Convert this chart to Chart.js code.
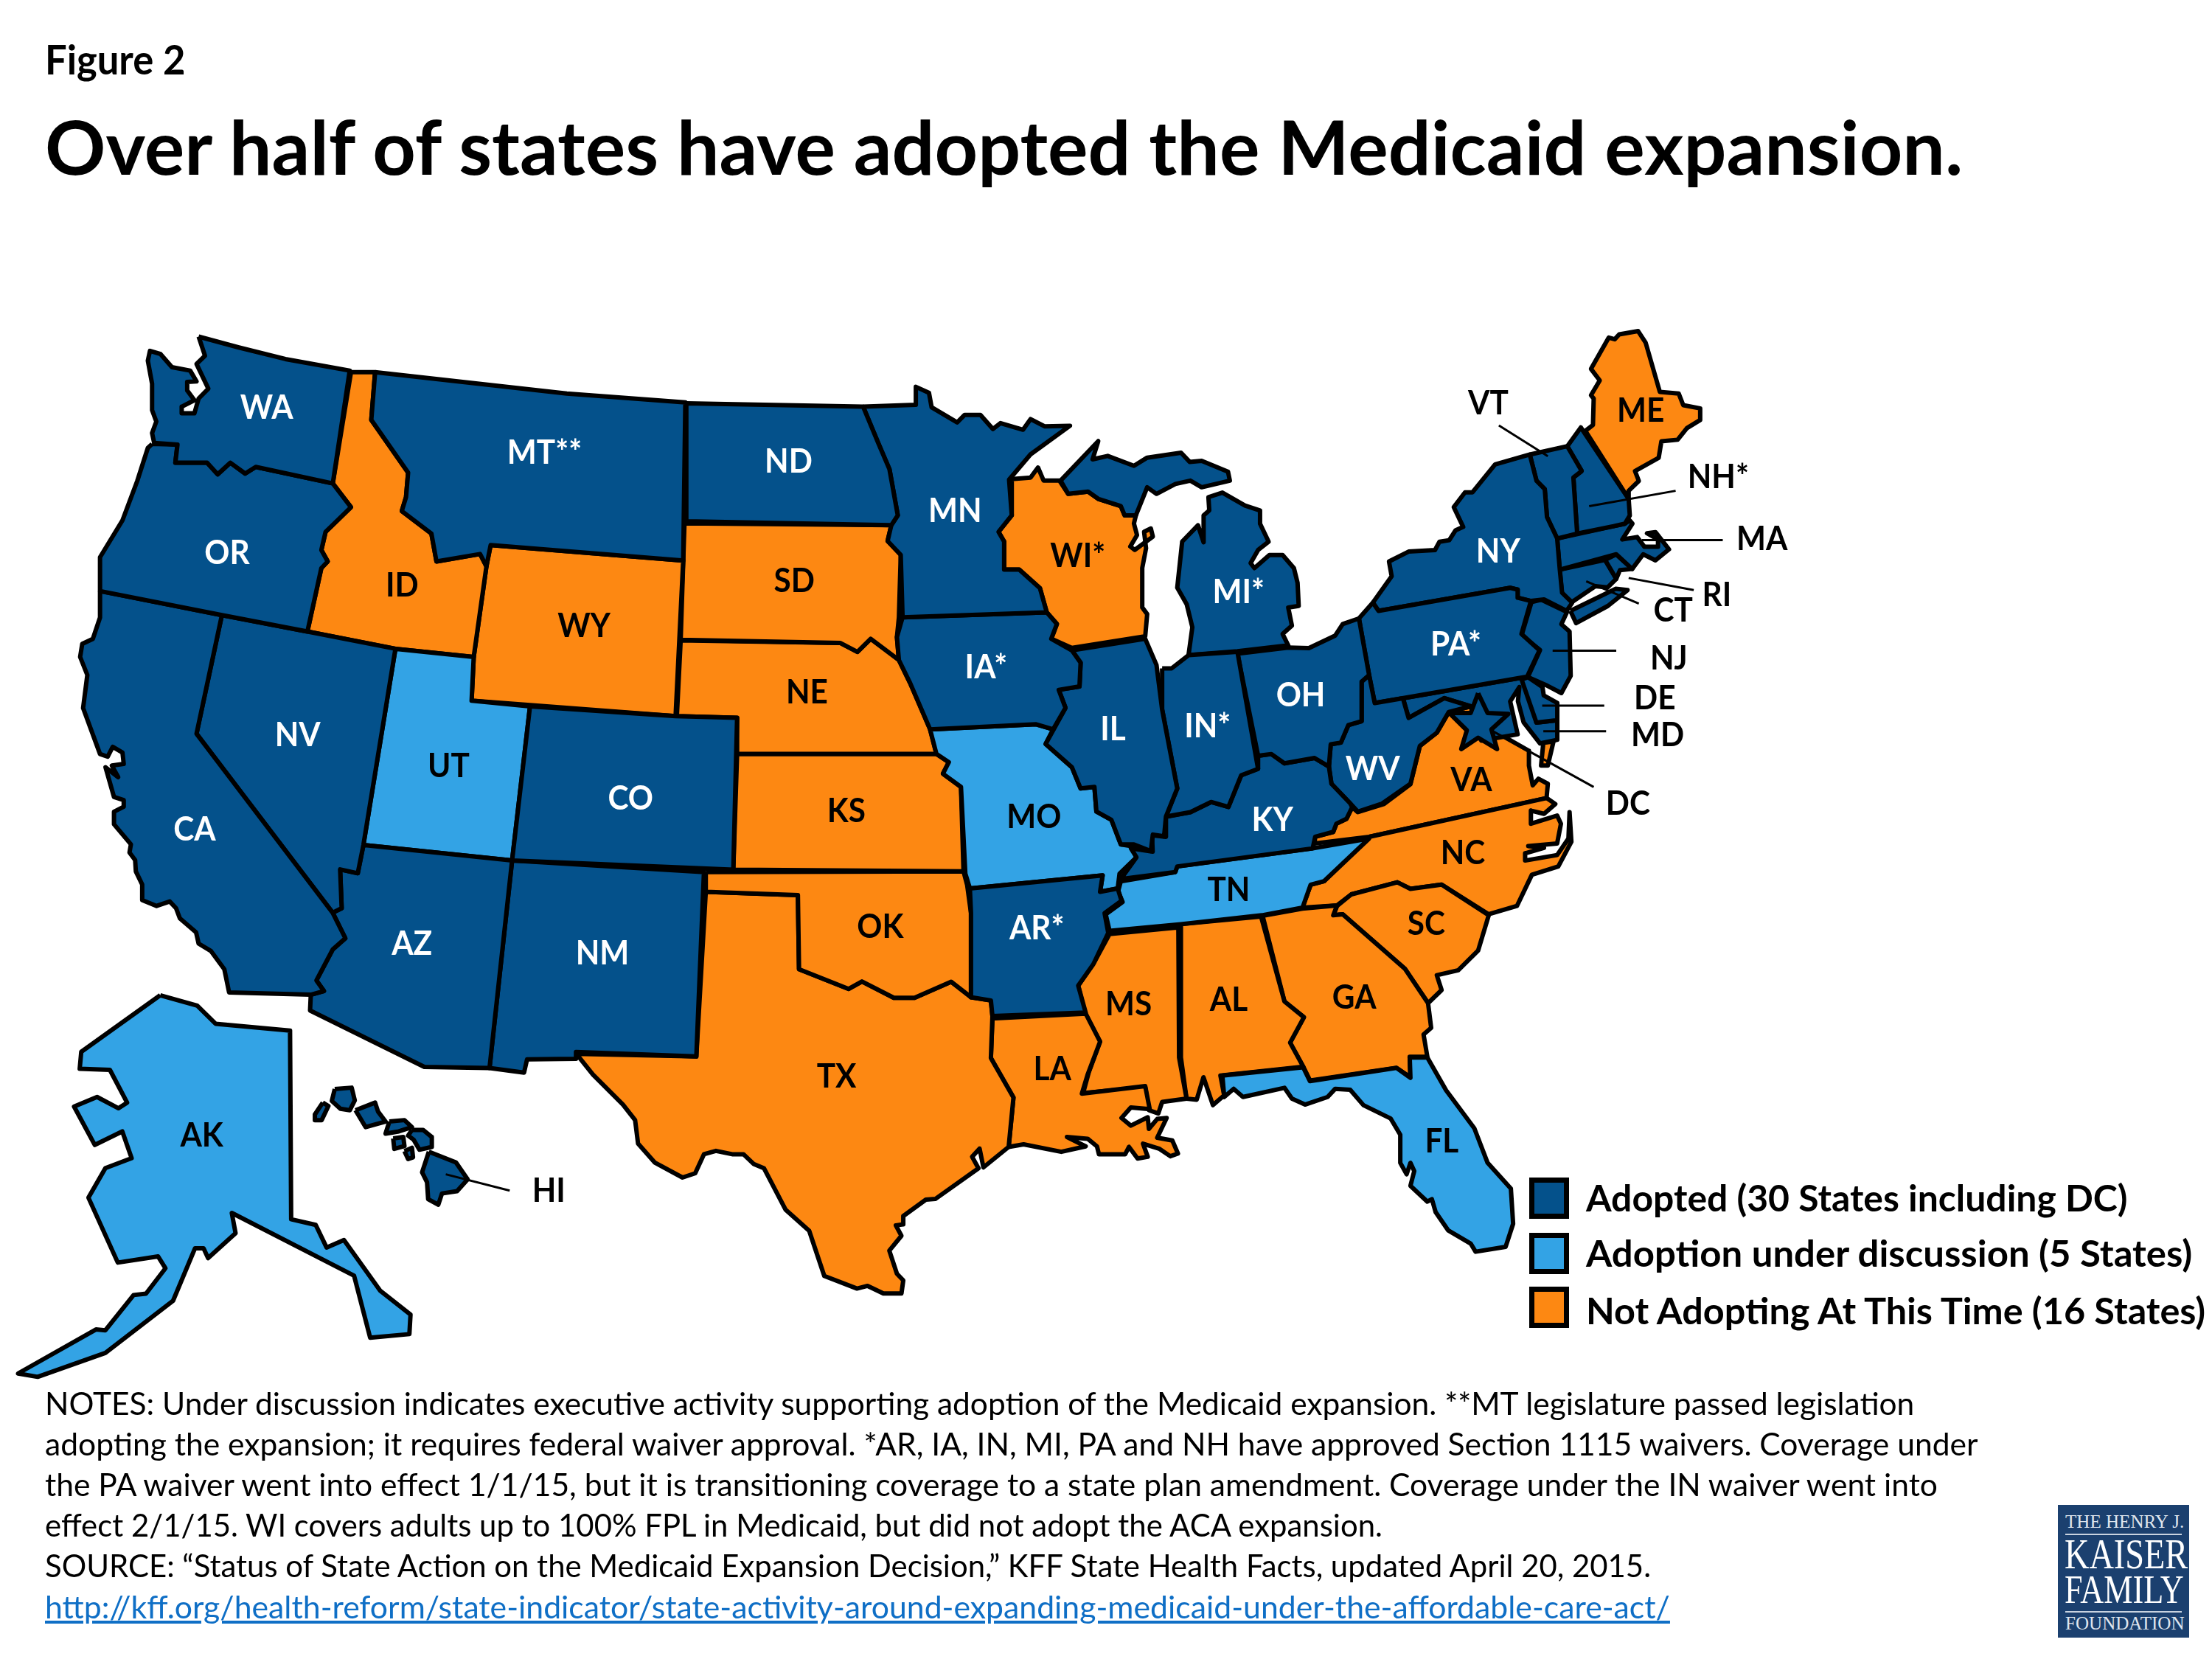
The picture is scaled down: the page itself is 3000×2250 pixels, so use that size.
<!DOCTYPE html>
<html>
<head>
<meta charset="utf-8">
<title>Figure 2</title>
<script src="https://cdn.jsdelivr.net/npm/chart.js@4"></script>
<style>
    html, body { margin: 0; padding: 0; background: #fff; }
    #page { position: relative; width: 3000px; height: 2250px; overflow: hidden; font-family: Lato, sans-serif; color: #000; }
    #myChart { position: absolute; left: 0; top: 0; }
    .line { position: absolute; white-space: pre; line-height: 1; transform-origin: left top; }
    .swatch { position: absolute; box-sizing: border-box; border: 7px solid #000; }
    #logo { position: absolute; left: 2791px; top: 2041px; width: 178px; height: 180px; background: #1b406f; }
    #logo hr { position: absolute; left: 10px; width: 158px; margin: 0; border: 0; border-top: 2px solid #c9d3e0; }
</style>
</head>
<body>
<div id="page"><canvas id="myChart" width="3000" height="2250"></canvas></div>
<script>
// state outlines (map units, 1568 x 1176)
const WA = [[140.8,238.6],[169.3,246.3],[202.3,254.5],[247.9,262.7],[235.9,342.7],[181.3,331],[173.8,335.7],[163.3,328],[154.3,336.2],[146.8,328],[124.3,328],[125.8,315.2],[109.3,314],[107.8,307],[110.8,298.8],[107.8,290.7],[107.8,272],[104.8,255.7],[106.3,248.7],[113.8,251],[121.9,260.3],[134.8,262.7],[139.3,270.4],[132.7,270.8],[132.7,276.7],[137.8,283.7],[128.8,288.3],[128.8,293],[137.8,293],[140.8,282.5],[147.7,275.5],[139.3,258],[145.3,252.2]];
const OR = [[107.8,314.7],[125.8,315.2],[124.3,328],[146.8,328],[154.3,336.2],[163.3,328],[173.8,335.7],[181.3,331],[235.9,342.7],[248.8,359.5],[230.8,377],[227.8,389.9],[232.3,398],[227.8,402.7],[217.9,447.7],[157.3,436],[70.9,419],[70.9,395],[86.8,368.9],[97.3,340.9],[104.8,317.5]];
const CA = [[70.9,419],[157.3,436],[139.3,520.1],[235.8,647],[244.8,665.1],[235.8,673.1],[224.3,695],[229.6,702.5],[220.3,705.1],[162.4,703.5],[159,687],[149.6,674.2],[140.8,668.9],[139,660.9],[127.5,651],[124.8,643.8],[120.3,639],[111,642.2],[100.8,638],[100.8,627],[96.3,617.7],[95.8,609.7],[91.8,604.3],[92.8,598.5],[80.8,584.3],[80.8,575.4],[87.7,571.9],[87.7,567.2],[80.8,564.9],[74.8,543.9],[83.8,550.9],[79.3,542.7],[87.7,541.5],[86.8,533.4],[79.9,529.4],[76.3,536.4],[70.9,534.5],[58.9,501.9],[61.9,478.5],[56.8,465.7],[58.3,456.4],[65.8,452.9],[70.9,437.7]];
const NV = [[157.3,436],[217.9,447.7],[280.3,459.9],[257.6,599],[253.6,619],[241.1,616.3],[242.2,643.8],[235.8,647],[139.3,520.1]];
const ID = [[248.8,263.8],[265.9,263.8],[263.2,297.7],[289.3,335],[287.8,352.5],[284.8,362.3],[305.8,378.2],[309.4,398],[340.3,392.7],[344.8,401.5],[335.8,465.7],[280.3,459.9],[217.9,447.7],[227.8,402.7],[232.3,398],[227.8,389.9],[230.8,377],[248.8,359.5],[235.9,342.7]];
const MT = [[265.9,263.8],[401.8,279],[485.8,285.3],[484.3,397.3],[347.8,386.4],[344.8,401.5],[340.3,392.7],[309.4,398],[305.8,378.2],[284.8,362.3],[287.8,352.5],[289.3,335],[263.2,297.7]];
const WY = [[347.8,386.4],[484.3,397.3],[478.9,507.7],[334.3,496.7],[335.8,465.7],[344.8,401.5]];
const UT = [[280.3,459.9],[335.8,465.7],[334.3,496.7],[375.7,500.7],[363,610],[257.6,599]];
const CO = [[375.7,500.7],[478.9,507.7],[522.5,508.8],[519.8,616.5],[363,610]];
const AZ = [[257.6,599],[363,610],[347,757.1],[300.8,756.3],[219.8,716.3],[220.3,705.1],[229.6,702.5],[224.3,695],[235.8,673.1],[244.8,665.1],[235.8,647],[242.2,643.8],[241.1,616.3],[253.6,619]];
const NM = [[363,610],[499,618.2],[493.6,748.9],[408.3,745.7],[408.3,750.5],[373.6,751],[371.5,760.3],[347,757.1]];
const ND = [[486.5,285.9],[611.8,288.2],[622.5,313.9],[630.5,332.6],[636.4,365.3],[631.8,372.3],[486.5,369.5]];
const SD = [[485.2,371],[631.8,372.3],[629.2,383.5],[638.5,393.3],[637.2,437.6],[635.8,451.6],[637.2,467.9],[617.2,452.8],[607.8,462.1],[595.8,455.8],[482.5,453.5]];
const NE = [[482.5,453.9],[595.8,455.8],[607.8,462.1],[617.2,452.8],[637.2,467.9],[645.2,484.3],[659.3,517],[663.8,534.4],[522.5,534.4],[522.5,508.8],[479.8,507.6]];
const KS = [[522.5,534.4],[663.8,534.4],[672.6,540.3],[668.4,548.5],[681.2,557.8],[683,617.7],[519.8,616.5]];
const OK = [[500.3,618.2],[683,617.7],[685.6,627.5],[688.3,647.3],[688.3,706.9],[674.2,695.9],[648.3,707.3],[633.6,707.3],[611,695.7],[601.6,701],[566.4,687],[565.6,634.5],[500.3,632.2]];
const TX = [[500.3,632.2],[565.6,634.5],[566.4,687],[601.6,701],[611,695.7],[633.6,707.3],[648.3,707.3],[674.2,695.9],[688.3,706.9],[702.4,709.2],[703.5,720.2],[702.4,750],[718.4,778],[715,813],[697.1,827.5],[694.4,814.2],[689.1,820],[693.6,828.2],[663,849.9],[656.3,850.4],[640.3,862],[640.3,867.9],[635,868.6],[639,876],[630.4,886.5],[635.8,902.9],[640.3,907.6],[639,916.9],[626.2,916.9],[615,911.5],[607.5,913.4],[584.3,904.5],[573.6,872.5],[556.8,857.4],[541.6,828.2],[534.4,825.2],[527,818.2],[519,818.2],[507.5,815.8],[499,818.2],[492.8,831.7],[483.8,834.7],[464.3,824.2],[452.3,810.7],[450.2,794],[441.6,783],[420.3,761.7],[408.5,747],[493.6,748.9]];
const MN = [[611.8,288.2],[649.2,287],[649.2,274.2],[658.5,278.4],[660.4,288.7],[678.5,299.4],[683.8,294.1],[695,294.1],[703.8,304.1],[709.2,299.9],[725.2,304.6],[730.5,297.1],[740.4,302.2],[758.5,301.8],[730.5,322.1],[715.3,340],[717.2,365.3],[707.8,377],[711.8,383.9],[711.8,403.8],[722.5,403.8],[737.2,417],[742,434.1],[639.8,437.6],[638.5,393.3],[629.2,383.5],[631.8,372.3],[636.4,365.3],[630.5,332.6],[622.5,313.9]];
const IA = [[639.8,437.6],[742,434.1],[749.2,442.3],[745.2,452.8],[759.8,461],[766,469.8],[765.2,486.6],[750.5,489],[755.3,501.8],[746.5,517],[734.5,513.4],[659.3,517],[645.2,484.3],[637.2,467.9],[635.8,451.6]];
const MO = [[659.3,517],[734.5,513.4],[746.5,517],[741.2,527.4],[759.8,543.8],[766,558.9],[775.8,557.8],[777.2,575.3],[787.8,581.1],[794.5,598.6],[803.8,600],[805.6,607.7],[793.6,619.3],[792.3,629.8],[779.8,632.2],[781.6,620.5],[687.5,629.8],[684.3,619.3],[681.2,557.8],[668.4,548.5],[672.6,540.3],[663.8,534.4]];
const AR = [[687.5,629.8],[781.6,620.5],[779.8,632.2],[792.3,629.8],[795,638.5],[783,647.3],[785.6,661.3],[775,683.5],[764.3,698.7],[769.6,717.8],[703.5,720.2],[702.4,709.2],[688.3,706.9],[688.3,647.3]];
const LA = [[703.5,722],[769.6,718.5],[779.8,738.4],[771,761.7],[766.9,775.2],[811.8,769.9],[815,786.2],[801.6,785],[795,792.5],[801.6,797.9],[813.6,792],[814.4,800.2],[820.3,793.2],[827,792.5],[820.3,806.5],[831,808.4],[835,817.7],[829.6,819.6],[821.6,814.2],[810.2,810.7],[813.6,820],[806.4,821.2],[800.3,813],[797.6,818.2],[779,818.2],[777.6,812.6],[771,807.2],[756.3,806],[769.6,812.6],[752.3,816.5],[725.6,811.2],[715,813],[718.4,778],[702.4,750]];
const WI = [[717.2,339.6],[730.5,338.6],[735.8,331.4],[739.8,340.7],[751,340.7],[757.2,350.1],[771.3,348.5],[778.5,353.6],[794.5,358.7],[797.2,365.3],[805.2,365.3],[803.8,371.1],[806,379.3],[801.2,387.4],[804.4,389.8],[817.2,380.4],[815.8,374.6],[811,377],[812.4,388.6],[809.7,402.6],[809.7,430.6],[813.2,435.3],[811.8,451.1],[759.8,459.3],[745.2,452.8],[749.2,442.3],[742,434.1],[737.2,417],[722.5,403.8],[711.8,403.8],[711.8,383.9],[707.8,377],[717.2,365.3]];
const IL = [[759.8,461],[811.8,452.8],[819.8,471.4],[823.8,503],[834.5,558.9],[826.5,578.8],[825.2,592.8],[817.2,591.6],[815.8,603.3],[803.8,598.6],[794.5,598.6],[787.8,581.1],[777.2,575.3],[775.8,557.8],[766,558.9],[759.8,543.8],[741.2,527.4],[755.3,501.8],[750.5,489],[765.2,486.6],[766,469.8]];
const IN = [[823.8,473.8],[830.5,473.8],[842.5,464.4],[877.2,462.1],[891.8,545],[879.8,549.6],[870.8,572],[858.5,568.5],[843.8,575.7],[826.5,578.8],[834.5,558.9],[823.8,503]];
const MI = [[842.5,464.4],[845.2,444.6],[841.2,428.3],[834.5,416.6],[838,383.9],[849.2,372.3],[853.2,384.4],[853.2,365.3],[857.2,361.8],[856.6,352.4],[866.5,349.2],[882.5,358.4],[893.2,361.9],[893.2,371.2],[899.3,384],[891.8,389.9],[886.5,399.2],[889.2,402.7],[899.8,393.4],[909.2,393.4],[917.2,402.7],[919.8,413.2],[920.6,429.5],[913.2,430.7],[915.8,443.5],[909.2,449.4],[913.2,457.5],[877.2,461.7]];
const MI2 = [[751.8,340.7],[778.5,312.7],[774.5,325.6],[785.2,323.2],[803.8,330.2],[813.2,324.4],[837.2,320.9],[843.3,327.4],[851.8,326.7],[870.5,334.4],[871.8,340.7],[851.8,345.4],[843.8,340.7],[833.2,343.1],[819.8,350.1],[813.2,345.4],[805.2,365.3],[797.2,365.3],[794.5,358.7],[778.5,353.6],[771.3,348.5],[757.2,350.1]];
const OH = [[877.2,463.4],[913.2,459],[927.8,459.4],[946.5,450.5],[951.8,442.4],[963.3,438.4],[970.5,478.5],[965.2,483.2],[965.2,511.2],[955.8,514],[950.5,526.4],[943.3,527.6],[942,543.4],[931.8,537.3],[910.5,541.1],[901.2,534.5],[891.8,535.7]];
const KY = [[826.5,579],[843.8,575.7],[858.5,568.5],[870.8,572],[879.8,549.6],[891.8,545],[891.8,535.7],[901.2,534.5],[910.5,541.1],[931.8,537.3],[942,543.4],[943.8,555.6],[957.2,569.6],[958.5,572.2],[954.5,580.4],[947.3,583.9],[945.1,589.7],[932.3,593.2],[930.5,601.4],[834.5,614.2],[833.1,618.2],[794.5,623.1],[805.6,607.7],[801.7,601.4],[817.1,603.7],[816.6,592.1],[826.5,593.2]];
const TN = [[794.5,624.7],[833.1,618.2],[834.5,614.2],[930.5,601.4],[970.5,594.4],[938.5,624.7],[929.1,627.1],[923.3,643.4],[894.5,648.8],[837.1,655.1],[786.5,659.8],[783.8,648.1],[795.8,639.4],[792.6,631.7]];
const MS = [[786.5,662.1],[835.3,657.4],[835.8,749.6],[841.1,778.8],[823.8,781.1],[821.1,789.3],[814.5,787],[811.8,770.6],[767.8,774.8],[771.8,760.1],[779.8,738.4],[769.1,718.1],[764.3,698.7],[775.8,681.9]];
const AL = [[837.1,655.1],[893.9,649.7],[910.5,709.9],[924.3,721.1],[914.5,739.1],[923.8,756.1],[865.1,762.4],[867.8,776.4],[859.8,783.4],[853.1,763.6],[848.3,779.5],[841.1,778.8],[837.1,749.6]];
const GA = [[895,649.2],[923.3,644.1],[947.8,641.8],[945.1,648.8],[951.8,648.1],[995.8,686.6],[1012.3,711.1],[1014.5,728.6],[1009.1,733.3],[1011.8,749.1],[999.3,749.1],[999.8,763.6],[989.9,757],[928.6,765.9],[923.8,756.1],[914.5,739.1],[924.3,721.1],[910.5,709.9]];
const FL = [[866.5,762.4],[923.8,756.6],[928.6,766.4],[989.9,757],[999.8,764],[999.3,749.6],[1011.8,749.6],[1025.1,772.9],[1045.1,799.8],[1054.5,824.3],[1071,842.5],[1072.6,867.5],[1067.3,883.8],[1046,887.3],[1042.5,881.5],[1026.5,872.1],[1017.7,859.3],[1015,850],[1011.8,851.8],[999.8,840.6],[1002.5,830.1],[999.8,824.3],[997.1,832.4],[992.6,824.3],[992.6,804.4],[985.7,792.8],[966.5,783.4],[957.1,772.5],[946.5,771.8],[941.1,777.6],[925.1,783],[915.8,778.8],[910.5,771.1],[881.1,777.6],[874.5,771.8],[867.8,777.6]];
const SC = [[945.1,648.8],[947.8,642.2],[957.9,634],[990.5,625.4],[999.8,630.1],[1021.9,627.1],[1055.3,648.8],[1047.8,673.8],[1033.7,687.8],[1018.5,691.3],[1021.9,701.8],[1012.3,711.1],[995.8,686.6],[951.8,648.1]];
const NC = [[970.5,593.2],[1096.3,565.7],[1102.5,569.9],[1094.5,576.9],[1085.2,574.6],[1085.2,583.9],[1103.8,578.1],[1106.5,583.9],[1103.8,597.9],[1083.3,599.8],[1094.5,601],[1081.1,604.9],[1081.1,610],[1103.8,606.1],[1111.8,594.4],[1112.6,575.7],[1113.9,596.7],[1104.6,614.2],[1085.9,620.1],[1075.3,642.2],[1055.3,648.1],[1021.9,627.1],[999.8,630.1],[990.5,625.4],[957.9,634],[947.8,641.8],[923.3,643.4],[929.1,627.1],[938.5,624.7]];
const VA = [[1027,504.7],[1042.5,500.7],[1065.2,521.7],[1083.8,532.2],[1083.8,542.7],[1086.5,556.7],[1090.5,552],[1097.2,555.6],[1096.3,565.7],[970.5,593.2],[931.8,597.9],[932.3,593.2],[945.1,589.7],[947.3,583.9],[954.5,580.4],[958.5,572.2],[962.5,575.7],[981.1,569.9],[999.8,555.9],[1006.5,528.7],[1018.5,519.4]];
const VA2 = [[1094,526.4],[1101.2,525.7],[1097.2,542.7],[1092.4,542.7]];
const WV = [[943.3,527.6],[950.5,526.4],[955.8,514],[965.2,511.2],[965.2,483.2],[970.5,478.5],[974.5,498.4],[994.5,495],[998.5,508.9],[1023.8,494.9],[1042.5,500.7],[1027,504.7],[1018.5,519.4],[1006.5,528.7],[999.8,555.6],[979.8,569.6],[962.5,575.4],[957.2,569.6],[943.8,555.6],[942,543.4]];
const PA = [[963.3,438.4],[973.2,427.2],[977.2,433],[1070.5,416.7],[1075.8,417.9],[1075.8,423.7],[1085.2,426],[1078.5,449.4],[1091.3,461],[1082.5,479.7],[974.5,498.4],[970.5,478.5]];
const NY = [[973.2,427.2],[986.5,408.5],[984.6,398],[998.5,391],[1017.2,389.9],[1020.4,384],[1027.3,382.9],[1031.8,375.9],[1037.2,373.5],[1030.5,359.5],[1038.5,349],[1043.8,349],[1059.8,329.2],[1084.4,322.2],[1089.2,340.9],[1095,346.7],[1096.6,366.5],[1103.8,381.7],[1105.7,403.9],[1107.3,420.2],[1114.5,427.2],[1110.5,433],[1094.5,424.9],[1085.2,426],[1075.8,423.7],[1075.8,417.9],[1070.5,416.7],[977.2,433]];
const NY2 = [[1113.2,433],[1145.2,417.4],[1153.7,418.3],[1139.8,429.5],[1117.2,441.7]];
const VT = [[1084.4,322.2],[1111,316.3],[1121.2,333.9],[1115.3,338.5],[1118,378.2],[1103.8,381.7],[1096.6,366.5],[1095,346.7],[1089.2,340.9]];
const NH = [[1111,316.3],[1120.6,303],[1154.5,353.7],[1155.3,365.4],[1151.8,371.2],[1143.8,373],[1118,378.2],[1115.3,338.5],[1121.2,333.9]];
const ME = [[1123.8,305.4],[1129.2,301.2],[1129.7,282.5],[1127.8,280.2],[1134,269.7],[1127.8,261.5],[1140.4,239.3],[1144.6,240.5],[1147.8,237],[1161.2,234.7],[1166.5,242.8],[1176.6,277.8],[1190,279],[1193.2,287.2],[1205.2,289.5],[1205.2,297.7],[1195.8,303.5],[1189.2,311.7],[1177.7,312.8],[1175.8,324.5],[1159,333.9],[1161.7,340.9],[1154.5,347.9],[1154.5,353.7]];
const MA = [[1103.8,381.7],[1143.8,373],[1151.8,371.2],[1155.3,368.9],[1157.2,371.2],[1150,382.4],[1160.5,380.7],[1165.7,387.6],[1175.3,387.6],[1175.3,382.4],[1167.5,378],[1173.5,377.2],[1183.1,389.4],[1173.5,397.2],[1164.8,392.9],[1157,403.3],[1145.7,392.9],[1105.6,403.8]];
const RI = [[1137.8,396.9],[1145.7,392.9],[1157,403.3],[1148.3,404.2],[1145.7,410.3]];
const CT = [[1105.6,403.8],[1137.8,396.9],[1145.7,410.3],[1139.6,416.4],[1130.9,415.5],[1114.3,426.8],[1107.3,421.6]];
const NJ = [[1085.6,426.8],[1092.5,425.1],[1110.8,433.8],[1106.8,442.5],[1112.6,447.7],[1113.4,479.1],[1106.8,491.3],[1096.9,486.1],[1083,480],[1091.7,460.8],[1078.6,450.4]];
const DE = [[1078.6,481.7],[1083,480],[1093.4,487],[1094.3,493],[1103.9,498.3],[1103.9,510.5],[1089.1,512.2]];
const MD = [[994.5,495],[1082.5,479.7],[1089.1,512.2],[1103.9,510.5],[1103.9,524.4],[1091.7,527],[1080,512],[1076,497],[1077,487],[1070.5,497.2],[1075.8,520.5],[1050,525],[1042.5,500.7],[1023.8,494.9],[998.5,508.9]];
const DC = [[1047.8,491.4],[1054.5,505.4],[1069.2,506.1],[1057.2,517],[1061.2,531],[1047.8,522.9],[1035.8,531],[1039.8,517.7],[1027.3,505.4],[1042.5,505.4]];
const AK = [[113.6,705.5],[139.8,712.9],[152.8,725.7],[205.6,730.5],[206.4,864.3],[223.8,868.3],[231.5,884.3],[243.8,879],[269.6,915],[291,931.8],[290.2,945.7],[262.4,948.3],[251,904.3],[164.3,859.8],[167,874.2],[147.5,891.8],[144.3,884.9],[138.2,884.9],[122.7,922],[74.7,959],[26.7,976],[12.8,973.6],[68,942.4],[74.7,943],[94.7,918],[103.5,917],[117.3,899],[112,890.6],[83.5,895],[62.7,849],[74.7,828],[93.3,821],[86.7,802],[67.2,811.6],[52.5,784.4],[68.8,777.6],[84,785.6],[90.1,781.6],[77.9,758.4],[56.5,757.6],[57.6,745.6]];
const HI = [[304,816.4],[323.2,824],[331.5,836],[324,844.4],[313.3,846],[310.7,854],[303.5,850],[302.7,838],[299.2,831]];
const HI2 = [[237.3,772],[249.3,771],[251.5,780],[248,787],[241.3,786],[235.2,780.4]];
const HI3 = [[228.8,781.6],[232.8,784],[228,794],[223.2,794],[223.2,790]];
const HI4 = [[252,787],[265.9,781.6],[268,788],[273.3,795],[259.2,799]];
const HI5 = [[276,795],[286.7,794],[292,799],[282.7,802],[273.3,803.6]];
const HI6 = [[292,801],[300,801],[306.1,806],[306.1,813],[297.3,815],[293.3,808],[289.3,805]];
const HI7 = [[278.7,807],[285.9,806],[286.7,812.4],[279.5,814.4]];
const HI8 = [[286.7,816],[292,813.6],[292.8,820.4],[289.3,821.6]];

// which group each shape belongs to
const adopted = [WA, OR, CA, NV, MT, CO, AZ, NM, ND, MN, IA, IL, IN, MI, MI2, OH, KY, WV, PA, NY, NY2, VT, NH, MA, RI, CT, NJ, DE, MD, AR, HI, HI2, HI3, HI4, HI5, HI6, HI7, HI8];
const underDiscussion = [AK, UT, MO, TN, FL];
const notAdopting = [ID, WY, SD, NE, KS, OK, TX, LA, WI, MS, AL, GA, SC, NC, VA, VA2, ME];

const groupColors = ['#04518b', '#33a3e5', '#fd8812'];

// pointer lines for the small states
const leaderLines = [
    [[316,832.4],[361.3,844]],
    [[1062.5,301.6],[1097.2,323.4]],
    [[1126.5,358.8],[1187.8,347.9]],
    [[1163.8,382.9],[1221.2,382.9]],
    [[1154.5,409.7],[1200.6,418.3]],
    [[1124.4,412],[1161.7,427.9]],
    [[1100.6,461.3],[1145.7,461.3]],
    [[1093.2,500.2],[1137.2,500.2]],
    [[1094,518.4],[1138.5,518.4]],
    [[1055.8,517],[1129.7,557.9]]
];

const labelNames = ['WA','MT**','OR','ND','NV','CA','CO','AZ','NM','MN','IA*','IL','MI*','IN*','OH','KY','WV','PA*','NY','AR*','ID','WY','SD','NE','UT','KS','MO','OK','TX','WI*','TN','MS','LA','AL','GA','SC','NC','VA','ME','FL','AK','HI','VT','NH*','MA','RI','CT','NJ','DE','MD','DC'];
const labelX = [189,386,161,559,211,138,447,292,427,677,699,789,878,856,922,902,973,1032,1062,735,285,414,563,572,318,600,733,624,593,764,871,800,746,871,960,1011,1037,1043,1163,1022,143,389,1055,1218,1249,1217,1186,1183,1173,1175,1154];
const labelY = [288,320,391,326,520,587,565,668,675,361,472,516,419,514,492,580,544,456,390,657,414,443,411,490,542,574,578,656,762,393,630,711,757,708,706,654,604,552,290,808,804,843,285,337,381,421,432,466,494,520,569];
const whiteLabelCount = 20; // the first 20 names sit on dark blue

const figureLabel = 'Figure 2';
const titleText = 'Over half of states have adopted the Medicaid expansion.';
const legendLabels = ['Adopted (30 States including DC)', 'Adoption under discussion (5 States)', 'Not Adopting At This Time (16 States)'];
const noteLines = [
    'NOTES: Under discussion indicates executive activity supporting adoption of the Medicaid expansion. **MT legislature passed legislation',
    'adopting the expansion; it requires federal waiver approval. *AR, IA, IN, MI, PA and NH have approved Section 1115 waivers. Coverage under',
    'the PA waiver went into effect 1/1/15, but it is transitioning coverage to a state plan amendment. Coverage under the IN waiver went into',
    'effect 2/1/15. WI covers adults up to 100% FPL in Medicaid, but did not adopt the ACA expansion.',
    'SOURCE: \u201cStatus of State Action on the Medicaid Expansion Decision,\u201d KFF State Health Facts, updated April 20, 2015.',
    'http://kff.org/health-reform/state-indicator/state-activity-around-expanding-medicaid-under-the-affordable-care-act/'
];

function toPoints(shape) {
    var pts = shape.map(function (p) { return { x: p[0], y: p[1] }; });
    pts.push(pts[0]);
    return pts;
}

var datasets = [];
datasets.push({ data: toPoints(DC), backgroundColor: groupColors[0], fill: 'shape', borderColor: '#000', borderWidth: 6 });
leaderLines.forEach(function (l) {
    datasets.push({ data: l.map(function (p) { return { x: p[0], y: p[1] }; }), borderColor: '#000', borderWidth: 3, fill: false });
});
[adopted, underDiscussion, notAdopting].forEach(function (group, i) {
    group.forEach(function (shape) {
        datasets.push({ data: toPoints(shape), backgroundColor: groupColors[i], fill: 'shape', borderColor: '#000', borderWidth: 6 });
    });
});

var labelPlugin = {
    id: 'stateLabels',
    afterDatasetsDraw: function (chart) {
        var ctx = chart.ctx;
        ctx.font = '700 46px Lato';
        ctx.textAlign = 'center';
        ctx.textBaseline = 'middle';
        labelNames.forEach(function (name, i) {
            ctx.save();
            ctx.fillStyle = i < whiteLabelCount ? '#fff' : '#000';
            ctx.translate(chart.scales.x.getPixelForValue(labelX[i]), chart.scales.y.getPixelForValue(labelY[i]) + 2);
            ctx.scale(0.92, 1);
            ctx.fillText(name, 0, 0);
            ctx.restore();
        });
    }
};

new Chart('myChart', {
    type: 'scatter',
    data: { datasets: datasets },
    options: {
        responsive: false,
        animation: false,
        devicePixelRatio: 1,
        layout: { padding: 0 },
        elements: { point: { radius: 0 }, line: { tension: 0, borderJoinStyle: 'round', borderCapStyle: 'butt' } },
        datasets: { scatter: { showLine: true, clip: false } },
        plugins: { legend: { display: false }, tooltip: { enabled: false } },
        scales: {
            x: { type: 'linear', min: 0, max: 1568, display: false },
            y: { type: 'linear', min: 0, max: 1176, reverse: true, display: false }
        }
    },
    plugins: [labelPlugin]
});

// text goes in as page elements, squeezed to the width it has in the figure
var page = document.getElementById('page');
function addLine(text, left, baseline, size, weight, width, color, font) {
    var el = document.createElement('div');
    el.className = 'line';
    el.textContent = text;
    el.style.left = left + 'px';
    el.style.top = (baseline - (font ? 0.8375 : 0.887) * size) + 'px';
    el.style.fontSize = size + 'px';
    el.style.fontWeight = weight;
    if (color) el.style.color = color;
    if (font) el.style.fontFamily = font;
    page.appendChild(el);
    el.style.transform = 'scaleX(' + width / el.offsetWidth + ')';
    return el;
}

addLine(figureLabel, 61, 102, 55, 700, 190);
addLine(titleText, 61, 237, 102, 700, 2601);

var noteBase = [1919, 1974, 2029, 2084, 2139, 2195];
var noteEnd = [2596, 2683, 2628, 1875, 2239, 2265];
noteLines.forEach(function (line, i) {
    var el = addLine(line, 61, noteBase[i], 42, 400, noteEnd[i] - 61, i == 5 ? '#0f6fc6' : null);
    if (i == 5) el.style.textDecoration = 'underline';
});

var swatchTop = [1597, 1672, 1745];
var legendBase = [1643, 1718, 1796];
var legendEnd = [2886, 2973, 2991];
legendLabels.forEach(function (label, i) {
    var box = document.createElement('div');
    box.className = 'swatch';
    box.style.cssText = 'left:2074px;top:' + swatchTop[i] + 'px;width:54px;height:56px;background:' + groupColors[i];
    page.appendChild(box);
    addLine(label, 2151, legendBase[i], 49, 700, legendEnd[i] - 2151);
});

var logo = document.createElement('div');
logo.id = 'logo';
logo.innerHTML = '<hr style="top:39px"><hr style="top:144px">';
page.appendChild(logo);
var serif = '"Liberation Serif", serif';
addLine('THE HENRY J.', 2801, 2073, 26, 400, 161, '#dfe5ee', serif);
addLine('KAISER', 2800, 2127, 56, 400, 167, '#fff', serif);
addLine('FAMILY', 2800, 2174, 54, 400, 162, '#fff', serif);
addLine('FOUNDATION', 2801, 2211, 26, 400, 162, '#dfe5ee', serif);
</script>
</body>
</html>
